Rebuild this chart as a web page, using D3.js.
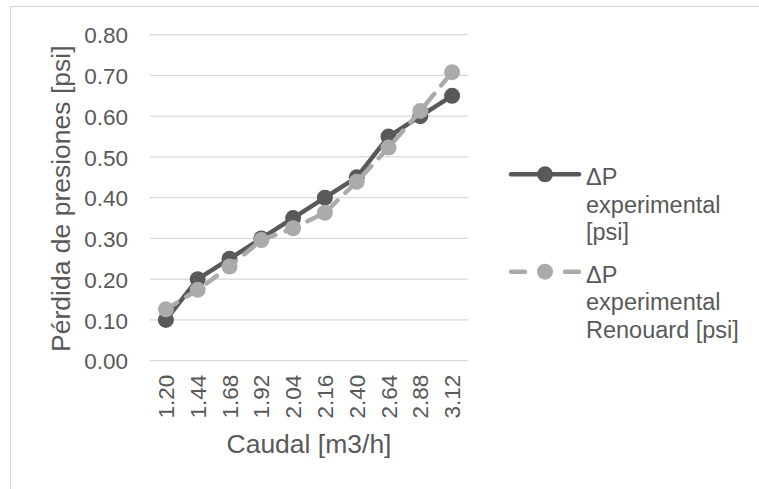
<!DOCTYPE html>
<html>
<head>
<meta charset="utf-8">
<script src="https://cdn.jsdelivr.net/npm/d3@7"></script>
<style>
  html, body { margin: 0; padding: 0; background: #fff; }
  svg { display: block; font-family: "Liberation Sans", Arial, sans-serif; }
</style>
</head>
<body>
<div id="chart"></div>
<script>
// datos
const caudal = ["1.20", "1.44", "1.68", "1.92", "2.04", "2.16", "2.40", "2.64", "2.88", "3.12"];
const dpExperimental = [0.10, 0.20, 0.25, 0.30, 0.35, 0.40, 0.45, 0.55, 0.60, 0.65];
const dpRenouard = [0.126, 0.174, 0.231, 0.296, 0.325, 0.363, 0.439, 0.523, 0.613, 0.708];
const yTicks = [0, 0.1, 0.2, 0.3, 0.4, 0.5, 0.6, 0.7, 0.8];
const seriesNames = [
  ["ΔP", "experimental", "[psi]"],
  ["ΔP", "experimental", "Renouard [psi]"]
];

const W = 759, H = 489;
const textColor = "#595959";
const colors = ["#595959", "#ababab"];

const svg = d3.select("#chart").append("svg")
  .attr("width", W).attr("height", H);

// borde del área del gráfico
svg.append("rect")
  .attr("x", 10.5).attr("y", 6.5)
  .attr("width", W + 20).attr("height", H + 20)
  .attr("fill", "#fff").attr("stroke", "#d9d9d9").attr("stroke-width", 1.3);

const plot = { left: 150, right: 468, top: 34.7, bottom: 360.7 };

const x = d3.scaleBand().domain(caudal).range([plot.left, plot.right]);
const y = d3.scaleLinear().domain([0, 0.8]).range([plot.bottom, plot.top]);

// líneas de cuadrícula
svg.append("g")
  .selectAll("line")
  .data(yTicks)
  .join("line")
  .attr("x1", plot.left).attr("x2", plot.right)
  .attr("y1", d => y(d)).attr("y2", d => y(d))
  .attr("stroke", "#d9d9d9").attr("stroke-width", 1.3);

// eje Y
const yAxis = svg.append("g")
  .attr("transform", `translate(${plot.left - 22},0)`)
  .call(d3.axisLeft(y).tickValues(yTicks).tickFormat(d3.format(".2f")).tickSize(0).tickPadding(0));
yAxis.select(".domain").remove();
yAxis.selectAll("text")
  .attr("fill", textColor).attr("font-size", 22.5)
  .attr("font-family", "Liberation Sans, Arial, sans-serif")
  .attr("dy", "0.36em");

// eje X
const xAxis = svg.append("g")
  .attr("transform", `translate(0,${plot.bottom})`)
  .call(d3.axisBottom(x).tickSize(0).tickPadding(0));
xAxis.select(".domain").remove();
xAxis.selectAll("text")
  .attr("fill", textColor).attr("font-size", 22.5)
  .attr("font-family", "Liberation Sans, Arial, sans-serif")
  .attr("text-anchor", "end")
  .attr("transform", "rotate(-90)")
  .attr("x", -14).attr("y", 0).attr("dy", "0.36em");

// títulos de ejes
svg.append("text")
  .attr("x", (plot.left + plot.right) / 2).attr("y", 453)
  .attr("text-anchor", "middle")
  .attr("fill", textColor).attr("font-size", 26.5)
  .text("Caudal [m3/h]");

svg.append("text")
  .attr("transform", `translate(70,${(plot.top + plot.bottom) / 2 + 1}) rotate(-90)`)
  .attr("text-anchor", "middle")
  .attr("fill", textColor).attr("font-size", 26.5)
  .text("Pérdida de presiones [psi]");

// series
const allSeries = [dpExperimental, dpRenouard];
const line = d3.line()
  .x((d, i) => x(caudal[i]) + x.bandwidth() / 2)
  .y(d => y(d));

allSeries.forEach((vals, k) => {
  const g = svg.append("g");
  g.append("path")
    .datum(vals)
    .attr("d", line)
    .attr("fill", "none")
    .attr("stroke", colors[k])
    .attr("stroke-width", 4.5)
    .attr("stroke-linecap", "round")
    .attr("stroke-linejoin", "round")
    .attr("stroke-dasharray", k === 1 ? "13,11" : null);
  g.selectAll("circle")
    .data(vals)
    .join("circle")
    .attr("cx", (d, i) => x(caudal[i]) + x.bandwidth() / 2)
    .attr("cy", d => y(d))
    .attr("r", 8)
    .attr("fill", colors[k]);
});

// leyenda
const legendY = [174.3, 271.7];
seriesNames.forEach((lines, k) => {
  const g = svg.append("g");
  if (k === 0) {
    g.append("line")
      .attr("x1", 511).attr("x2", 579)
      .attr("y1", legendY[k]).attr("y2", legendY[k])
      .attr("stroke", colors[k]).attr("stroke-width", 4.5)
      .attr("stroke-linecap", "round");
  } else {
    [[511, 525], [565, 579]].forEach(([a, b]) => {
      g.append("line")
        .attr("x1", a).attr("x2", b)
        .attr("y1", legendY[k]).attr("y2", legendY[k])
        .attr("stroke", colors[k]).attr("stroke-width", 4.5)
        .attr("stroke-linecap", "round");
    });
  }
  g.append("circle")
    .attr("cx", 545).attr("cy", legendY[k]).attr("r", 8)
    .attr("fill", colors[k]);
  g.selectAll("text")
    .data(lines)
    .join("text")
    .attr("x", 586)
    .attr("y", (d, i) => legendY[k] + 11 + i * 27.5)
    .attr("fill", textColor).attr("font-size", 23.5)
    .text(d => d);
});
</script>
</body>
</html>
